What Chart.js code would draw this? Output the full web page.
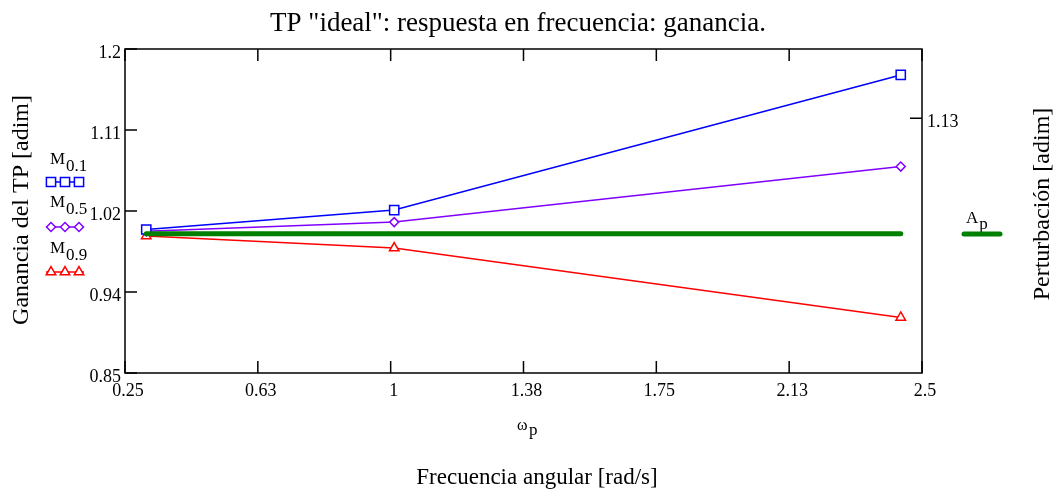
<!DOCTYPE html>
<html>
<head>
<meta charset="utf-8">
<script src="https://cdn.jsdelivr.net/npm/chart.js@4"></script>
<style>
  html, body { margin: 0; padding: 0; background: #fff; }
  canvas { display: block; }
</style>
</head>
<body>
<canvas id="gainChart" width="1059" height="492"></canvas>
<script>
// values
const omega = [0.31, 1.01, 2.44];
const gainM01 = [1.005, 1.026, 1.172];
const gainM05 = [1.003, 1.013, 1.073];
const gainM09 = [0.998, 0.985, 0.910];
const perturbAp = [1.0, 1.0, 1.0];

const xTickValues = [0.25, 0.625, 1, 1.375, 1.75, 2.125, 2.5];
const xTickLabels = ['0.25', '0.63', '1', '1.38', '1.75', '2.13', '2.5'];
const yTickValues = [0.85, 0.9375, 1.025, 1.1125, 1.2];
const yTickLabels = ['0.85', '0.94', '1.02', '1.11', '1.2'];
const y2TickValues = [1.13];
const y2TickLabels = ['1.13'];

const FONT = '"Liberation Serif", "Times New Roman", serif';

function toPoints(ys) {
    return omega.map((x, i) => ({ x: x, y: ys[i] }));
}

// subscripted label such as M_0.1
function subText(ctx, main, sub, x, y, size, subSize, drop) {
    ctx.font = size + 'px ' + FONT;
    ctx.textAlign = 'left';
    ctx.textBaseline = 'alphabetic';
    ctx.fillText(main, x, y);
    const w = ctx.measureText(main).width;
    ctx.font = subSize + 'px ' + FONT;
    ctx.fillText(sub, x + w + 1, y + drop);
}

const decorations = {
    id: 'decorations',
    afterDraw(chart) {
        const ctx = chart.ctx;
        const a = chart.chartArea;
        const xs = chart.scales.x, ys = chart.scales.y, y2 = chart.scales.y2;
        ctx.save();

        // frame
        ctx.strokeStyle = '#000';
        ctx.lineWidth = 1.5;
        ctx.strokeRect(a.left, a.top, a.right - a.left, a.bottom - a.top);

        // inside ticks
        const tl = 12;
        ctx.beginPath();
        xTickValues.forEach(v => {
            const px = xs.getPixelForValue(v);
            ctx.moveTo(px, a.bottom); ctx.lineTo(px, a.bottom - tl);
            ctx.moveTo(px, a.top); ctx.lineTo(px, a.top + tl);
        });
        yTickValues.forEach(v => {
            const py = ys.getPixelForValue(v);
            ctx.moveTo(a.left, py); ctx.lineTo(a.left + tl, py);
        });
        y2TickValues.forEach(v => {
            const py = y2.getPixelForValue(v);
            ctx.moveTo(a.right, py); ctx.lineTo(a.right - tl, py);
        });
        ctx.stroke();

        ctx.fillStyle = '#000';
        // title
        ctx.font = '27px ' + FONT;
        ctx.textAlign = 'center';
        ctx.textBaseline = 'alphabetic';
        ctx.fillText('TP "ideal": respuesta en frecuencia: ganancia.', 518, 31);

        // x axis titles
        ctx.font = '23px ' + FONT;
        ctx.fillText('Frecuencia angular [rad/s]', 537, 484);
        ctx.font = '16px ' + FONT;
        ctx.textAlign = 'left';
        ctx.fillText('\u03c9', 517, 430);
        ctx.font = '17px ' + FONT;
        ctx.fillText('p', 529, 435);

        // y axis titles
        ctx.font = '24px ' + FONT;
        ctx.textAlign = 'center';
        ctx.textBaseline = 'middle';
        ctx.save();
        ctx.translate(22, 210);
        ctx.rotate(-Math.PI / 2);
        ctx.fillText('Ganancia del TP [adim]', 0, 0);
        ctx.restore();
        ctx.save();
        ctx.translate(1043, 204);
        ctx.rotate(-Math.PI / 2);
        ctx.fillText('Perturbaci\u00f3n [adim]', 0, 0);
        ctx.restore();

        // left legend
        const entries = [
            { ds: chart.data.datasets[0], label: 'M', sub: '0.1', ty: 164, ly: 182 },
            { ds: chart.data.datasets[1], label: 'M', sub: '0.5', ty: 207, ly: 227 },
            { ds: chart.data.datasets[2], label: 'M', sub: '0.9', ty: 253, ly: 272 }
        ];
        entries.forEach(e => {
            ctx.fillStyle = '#000';
            subText(ctx, e.label, e.sub, 50, e.ty, 17, 17, 7);
            ctx.strokeStyle = e.ds.borderColor;
            ctx.lineWidth = 1.5;
            ctx.beginPath();
            ctx.moveTo(46, e.ly); ctx.lineTo(84, e.ly);
            ctx.stroke();
            ctx.fillStyle = '#fff';
            [51, 65, 79].forEach(mx => {
                Chart.helpers.drawPoint(ctx, {
                    pointStyle: e.ds.pointStyle,
                    radius: e.ds.pointRadius,
                    borderWidth: 1.5,
                    rotation: 0
                }, mx, e.ly);
            });
        });

        // right legend
        ctx.fillStyle = '#000';
        subText(ctx, 'A', 'p', 966, 223, 17, 17, 6);
        ctx.strokeStyle = chart.data.datasets[3].borderColor;
        ctx.lineWidth = 5;
        ctx.lineCap = 'round';
        ctx.beginPath();
        ctx.moveTo(964, 234); ctx.lineTo(1000, 234);
        ctx.stroke();

        ctx.restore();
    }
};

const ctx = document.getElementById('gainChart').getContext('2d');

new Chart(ctx, {
    type: 'line',
    data: {
        datasets: [{
            label: 'M0.1',
            data: toPoints(gainM01),
            borderColor: '#0000ff',
            backgroundColor: '#ffffff',
            borderWidth: 1.5,
            pointStyle: 'rect',
            pointRadius: 6.5,
            pointBorderWidth: 1.5,
            yAxisID: 'y',
            order: 1
        }, {
            label: 'M0.5',
            data: toPoints(gainM05),
            borderColor: '#8000ff',
            backgroundColor: '#ffffff',
            borderWidth: 1.5,
            pointStyle: 'rectRot',
            pointRadius: 4.5,
            pointBorderWidth: 1.5,
            yAxisID: 'y',
            order: 2
        }, {
            label: 'M0.9',
            data: toPoints(gainM09),
            borderColor: '#ff0000',
            backgroundColor: '#ffffff',
            borderWidth: 1.5,
            pointStyle: 'triangle',
            pointRadius: 5.5,
            pointBorderWidth: 1.5,
            yAxisID: 'y',
            order: 3
        }, {
            label: 'Ap',
            data: toPoints(perturbAp),
            borderColor: '#008000',
            backgroundColor: '#008000',
            borderWidth: 5,
            borderCapStyle: 'round',
            pointRadius: 0,
            yAxisID: 'y2',
            order: 0
        }]
    },
    options: {
        responsive: false,
        animation: false,
        devicePixelRatio: 1,
        layout: { padding: { top: 49, left: 0, right: 0, bottom: 0 } },
        plugins: {
            legend: { display: false },
            tooltip: { enabled: false }
        },
        scales: {
            x: {
                type: 'linear',
                min: 0.25,
                max: 2.5,
                afterBuildTicks: s => { s.ticks = xTickValues.map(v => ({ value: v })); },
                afterFit: s => { s.height = 119; },
                grid: { display: false, drawTicks: false },
                border: { display: false },
                ticks: {
                    callback: (v, i) => xTickLabels[i],
                    font: { family: FONT, size: 18 },
                    color: '#000',
                    padding: 7,
                    labelOffset: 3,
                    maxRotation: 0,
                    autoSkip: false
                }
            },
            y: {
                position: 'left',
                min: 0.85,
                max: 1.2,
                afterBuildTicks: s => { s.ticks = yTickValues.map(v => ({ value: v })); },
                afterFit: s => { s.width = 125; },
                grid: { display: false, drawTicks: false },
                border: { display: false },
                ticks: {
                    callback: (v, i) => yTickLabels[i],
                    font: { family: FONT, size: 18 },
                    color: '#000',
                    padding: 4,
                    labelOffset: 4,
                    autoSkip: false
                }
            },
            y2: {
                position: 'right',
                min: 0.843,
                max: 1.208,
                afterBuildTicks: s => { s.ticks = y2TickValues.map(v => ({ value: v })); },
                afterFit: s => { s.width = 137; },
                grid: { display: false, drawTicks: false },
                border: { display: false },
                ticks: {
                    callback: (v, i) => y2TickLabels[i],
                    font: { family: FONT, size: 18 },
                    color: '#000',
                    padding: 5,
                    labelOffset: 4,
                    autoSkip: false
                }
            }
        }
    },
    plugins: [decorations]
});
</script>
</body>
</html>
